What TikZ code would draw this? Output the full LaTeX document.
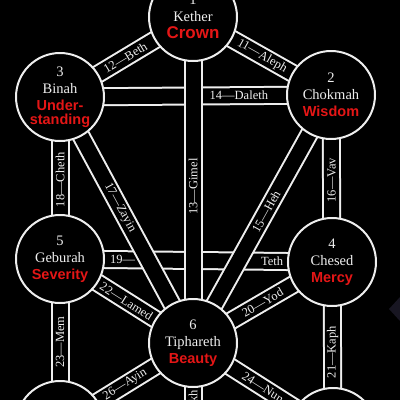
\documentclass[tikz,border=0pt]{standalone}
\usepackage{fontspec}
\setmainfont{Liberation Serif}
\setsansfont{Liberation Sans}
\pgfdeclarelayer{canvas}
\pgfdeclarelayer{bands}
\pgfsetlayers{canvas,bands,main}
\definecolor{virtuered}{RGB}{228,22,22}
\definecolor{chalk}{RGB}{238,238,238}
\definecolor{smudge}{RGB}{24,22,34}
\newcommand{\virtue}[1]{{\color{virtuered}\sffamily\bfseries #1}}
\tikzset{
  sephira/.style={
    circle, draw=chalk, fill=black, line width=2pt,
    minimum size=88pt, inner sep=0pt, align=center, text=chalk,
    font=\fontsize{14.5}{17}\selectfont
  },
  band/.style={draw=chalk, line width=2pt, double=black, double distance=15pt},
  pathlabel/.style={text=chalk, font=\fontsize{12.5}{14}\selectfont, inner sep=1pt},
}

\begin{document}
\begin{tikzpicture}[x=1pt, y=-1pt]
\useasboundingbox (0,0) rectangle (400,400);

\begin{pgfonlayer}{canvas}
  \fill[black] (0,0) rectangle (400,400);
  \fill[smudge] (389,309) -- (400,297) -- (400,321) -- cycle;
\end{pgfonlayer}

%% ---- SEPHIROTH ----
\node[sephira] (kether)  at (193,17)  {1\\Kether\\\virtue{\fontsize{17}{18}\selectfont Crown}};
\node[sephira] (chokmah) at (331,95)  {2\\Chokmah\\\virtue{Wisdom}};
\node[sephira] (binah)   at (60,97)   {3\\Binah\\\virtue{Under-}\\[-3pt]\virtue{standing}};
\node[sephira] (chesed)  at (332,262) {4\\Chesed\\\virtue{Mercy}};
\node[sephira] (geburah) at (60,259)  {5\\Geburah\\\virtue{Severity}};
\node[sephira] (tiph)    at (193,343) {6\\Tiphareth\\\virtue{Beauty}};
\node[sephira] (netzach) at (333,432) {};
\node[sephira] (hod)     at (60,425)  {};
\coordinate (yesod) at (193,480);

%% ---- PATHS ----
\begin{pgfonlayer}{bands}
  %% horizontals first, the others cross over them
  \draw[band] (binah.center) -- (chokmah.center)
    node[pathlabel, pos=0.66] {14—Daleth};
  \draw[band] (geburah.center) -- (chesed.center)
    node[pathlabel, pos=0.23] {19—}
    node[pathlabel, pos=0.78] {Teth};

  %% verticals
  \draw[band] (kether.center) -- (tiph.center)
    node[pathlabel, pos=0.52, rotate=90] {13—Gimel};
  \draw[band] (chokmah.center) -- (chesed.center)
    node[pathlabel, pos=0.51, rotate=90] {16—Vav};
  \draw[band] (binah.center) -- (geburah.center)
    node[pathlabel, pos=0.51, rotate=90] {18—Cheth};
  \draw[band] (chesed.center) -- (netzach.center)
    node[pathlabel, pos=0.53, rotate=90] {21—Kaph};
  \draw[band] (geburah.center) -- (hod.center)
    node[pathlabel, pos=0.50, rotate=90] {23—Mem};
  \draw[band] (tiph.center) -- (yesod)
    node[pathlabel, pos=0.58, rotate=90] {25—Samekh};

  %% diagonals
  \draw[band] (kether.center) -- (chokmah.center)
    node[pathlabel, pos=0.5, sloped] {11—Aleph};
  \draw[band] (kether.center) -- (binah.center)
    node[pathlabel, pos=0.51, sloped] {12—Beth};
  \draw[band] (chokmah.center) -- (tiph.center)
    node[pathlabel, pos=0.47, sloped] {15—Heh};
  \draw[band] (binah.center) -- (tiph.center)
    node[pathlabel, pos=0.45, sloped] {17—Zayin};
  \draw[band] (chesed.center) -- (tiph.center)
    node[pathlabel, pos=0.5, sloped] {20—Yod};
  \draw[band] (geburah.center) -- (tiph.center)
    node[pathlabel, pos=0.5, sloped] {22—Lamed};
  \draw[band] (tiph.center) -- (netzach.center)
    node[pathlabel, pos=0.5, sloped] {24—Nun};
  \draw[band] (tiph.center) -- (hod.center)
    node[pathlabel, pos=0.51, sloped] {26—Ayin};
\end{pgfonlayer}

\end{tikzpicture}
\end{document}
